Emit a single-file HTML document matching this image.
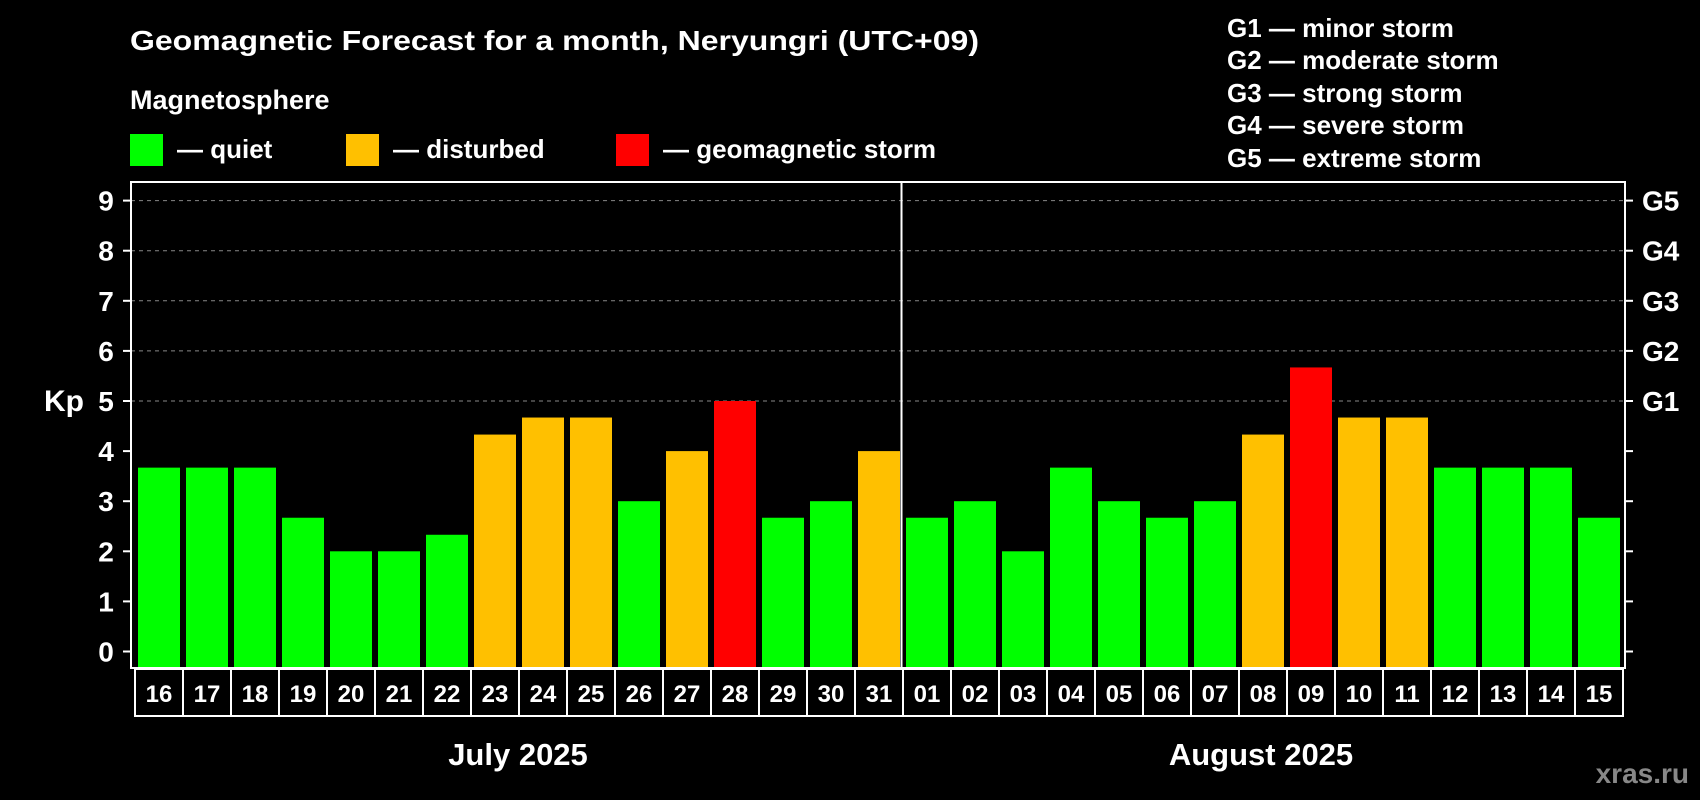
<!DOCTYPE html>
<html><head><meta charset="utf-8"><style>
html,body{margin:0;padding:0;background:#000;width:1700px;height:800px;overflow:hidden}
svg text{font-family:"Liberation Sans",Arial,sans-serif;font-weight:bold;fill:#fff}
</style></head><body>
<svg id="chart" width="1700" height="800" viewBox="0 0 1700 800" xmlns="http://www.w3.org/2000/svg">
<rect width="1700" height="800" fill="#000"/>
<text x="130" y="50" font-size="28" textLength="849" lengthAdjust="spacingAndGlyphs">Geomagnetic Forecast for a month, Neryungri (UTC+09)</text>
<text x="130" y="109" font-size="27">Magnetosphere</text>
<g><rect x="130" y="134" width="33" height="32" fill="#00ff00"/><text x="177" y="158" font-size="26">— quiet</text></g>
<g><rect x="346" y="134" width="33" height="32" fill="#ffc000"/><text x="393" y="158" font-size="26">— disturbed</text></g>
<g><rect x="616" y="134" width="33" height="32" fill="#ff0000"/><text x="663" y="158" font-size="26">— geomagnetic storm</text></g>
<g font-size="26">
<text x="1227" y="37">G1 — minor storm</text>
<text x="1227" y="69">G2 — moderate storm</text>
<text x="1227" y="102">G3 — strong storm</text>
<text x="1227" y="134">G4 — severe storm</text>
<text x="1227" y="167">G5 — extreme storm</text>
</g>
<text x="64" y="411" font-size="30" text-anchor="middle">Kp</text>
<g id="grid"></g>
<g id="bars"></g>
<g id="axes"></g>
<text x="518" y="765" font-size="31" text-anchor="middle">July 2025</text>
<text x="1261" y="765" font-size="31" text-anchor="middle">August 2025</text>
<text x="1689" y="783" font-size="28" text-anchor="end" style="fill:#888">xras.ru</text>
</svg>
<script>
const days = ["16","17","18","19","20","21","22","23","24","25","26","27","28","29","30","31","01","02","03","04","05","06","07","08","09","10","11","12","13","14","15"];
const kpValues = [3.67,3.67,3.67,2.67,2,2,2.33,4.33,4.67,4.67,3,4,5,2.67,3,4,2.67,3,2,3.67,3,2.67,3,4.33,5.67,4.67,4.67,3.67,3.67,3.67,2.67];
const yTicks = [0,1,2,3,4,5,6,7,8,9];
const gLabels = ["G1","G2","G3","G4","G5"];
const gLevels = [5,6,7,8,9];
const NS="http://www.w3.org/2000/svg";
const L=131,R=1625,T=182,B=668,slot0=135,pitch=48;
const y=v=>651.5-50.1*v;
const x=i=>slot0+pitch*i;
function mk(t,a,p){const e=document.createElementNS(NS,t);for(const k in a)e.setAttribute(k,a[k]);p.appendChild(e);return e;}
const grid=document.getElementById('grid'),bars=document.getElementById('bars'),axes=document.getElementById('axes');
gLevels.forEach(v=>{const l=mk('line',{x1:L,x2:R,y1:y(v),y2:y(v),stroke:'#888','stroke-width':1,'stroke-dasharray':'4 4'},grid);

});
kpValues.forEach((v,i)=>{const c=v>=5?'#ff0000':(v>=4?'#ffc000':'#00ff00');
const r=mk('rect',{x:x(i)+3,y:y(v),width:42,height:B-y(v),fill:c},bars);


const b=mk('rect',{x:x(i),y:669,width:pitch,height:47,fill:'none',stroke:'#fff','stroke-width':2},axes);


const t=mk('text',{x:x(i)+pitch/2,y:702,'font-size':24,'text-anchor':'middle'},axes);t.textContent=days[i];

});
const fr=mk('rect',{x:L,y:T,width:R-L,height:B-T,fill:'none',stroke:'#fff','stroke-width':2},axes);


const dv=mk('line',{x1:x(16)-1.5,x2:x(16)-1.5,y1:T,y2:B,stroke:'#fff','stroke-width':2},axes);


yTicks.forEach(v=>{mk('line',{x1:L-8,x2:L,y1:y(v),y2:y(v),stroke:'#fff','stroke-width':2},axes);
mk('line',{x1:R,x2:R+8,y1:y(v),y2:y(v),stroke:'#fff','stroke-width':2},axes);
const t=mk('text',{x:106,y:y(v)+10,'font-size':28,'text-anchor':'middle'},axes);t.textContent=v;

});
gLevels.forEach((v,i)=>{const t=mk('text',{x:1642,y:y(v)+10,'font-size':28},axes);t.textContent=gLabels[i];

});
</script>
</body></html>
